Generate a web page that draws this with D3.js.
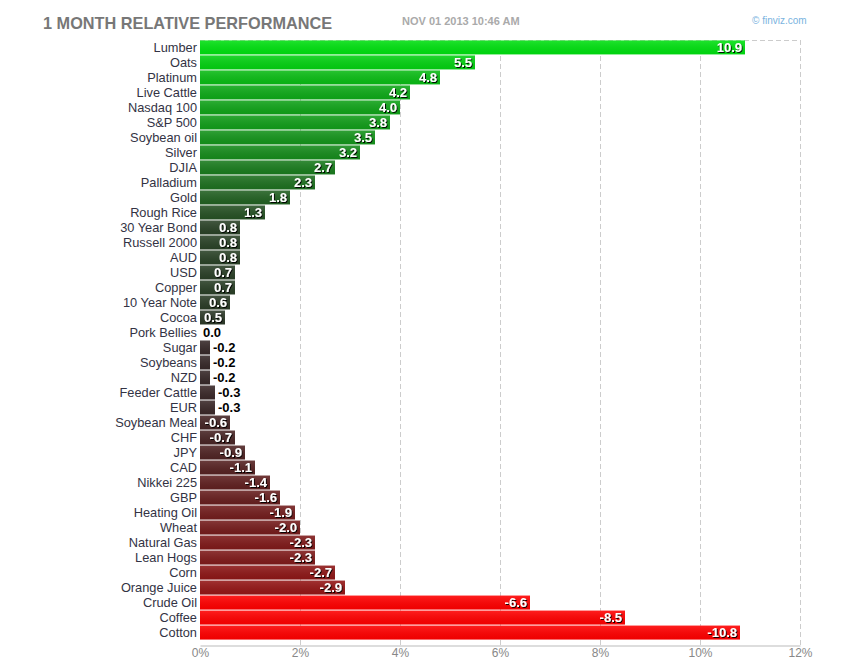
<!DOCTYPE html>
<html>
<head>
<meta charset="utf-8">
<script src="https://cdn.jsdelivr.net/npm/d3@7"></script>
<style>
  body { margin: 0; background: #fff; }
  svg { font-family: Arial, "Liberation Sans", sans-serif; }
</style>
</head>
<body>
<svg id="chart" width="850" height="670"></svg>
<script>
// chart data
const names = ['Lumber', 'Oats', 'Platinum', 'Live Cattle', 'Nasdaq 100', 'S&P 500', 'Soybean oil',
  'Silver', 'DJIA', 'Palladium', 'Gold', 'Rough Rice', '30 Year Bond', 'Russell 2000', 'AUD', 'USD',
  'Copper', '10 Year Note', 'Cocoa', 'Pork Bellies', 'Sugar', 'Soybeans', 'NZD', 'Feeder Cattle', 'EUR',
  'Soybean Meal', 'CHF', 'JPY', 'CAD', 'Nikkei 225', 'GBP', 'Heating Oil', 'Wheat', 'Natural Gas',
  'Lean Hogs', 'Corn', 'Orange Juice', 'Crude Oil', 'Coffee', 'Cotton'];
const perf = [10.9, 5.5, 4.8, 4.2, 4.0, 3.8, 3.5, 3.2, 2.7, 2.3, 1.8, 1.3, 0.8, 0.8, 0.8, 0.7,
  0.7, 0.6, 0.5, 0.0, -0.2, -0.2, -0.2, -0.3, -0.3, -0.6, -0.7, -0.9, -1.1, -1.4, -1.6, -1.9, -2.0,
  -2.3, -2.3, -2.7, -2.9, -6.6, -8.5, -10.8];
const ticks = [0, 2, 4, 6, 8, 10, 12];

const svg = d3.select('#chart');
const plotLeft = 200, plotRight = 800, plotTop = 40, plotBottom = 640;

const x = d3.scaleLinear().domain([0, 12]).range([plotLeft, plotRight]);
const y = d3.scaleBand().domain(names).range([plotTop, plotBottom]).paddingInner(0.07).paddingOuter(0.03);

// colour by value: dark near zero, bright green / red for big moves
const color = d3.scaleLinear()
  .domain([-6, 0, 6])
  .range(['#ff0000', '#302a2a', '#00e010'])
  .clamp(true);

// gradient overlay for a little shine on bars
const defs = svg.append('defs');
const grad = defs.append('linearGradient').attr('id', 'shine')
  .attr('x1', 0).attr('y1', 0).attr('x2', 0).attr('y2', 1);
grad.append('stop').attr('offset', '0%').attr('stop-color', '#fff').attr('stop-opacity', 0.12);
grad.append('stop').attr('offset', '100%').attr('stop-color', '#000').attr('stop-opacity', 0.06);
const shadow = defs.append('filter').attr('id', 'txtshadow');
shadow.append('feDropShadow').attr('dx', 1).attr('dy', 1).attr('stdDeviation', 0)
  .attr('flood-color', '#000').attr('flood-opacity', 0.9);

// title
svg.append('text').attr('x', 43).attr('y', 29)
  .attr('font-size', 16.3).attr('font-weight', 'bold').attr('fill', '#777')
  .text('1 MONTH RELATIVE PERFORMANCE');
svg.append('text').attr('x', 402).attr('y', 25)
  .attr('font-size', 11).attr('font-weight', 'bold').attr('fill', '#aaa')
  .text('NOV 01 2013 10:46 AM');
svg.append('text').attr('x', 752).attr('y', 24)
  .attr('font-size', 10).attr('fill', '#7ab3e0')
  .text('\u00a9 finviz.com');

// grid
const grid = svg.append('g');
grid.append('line')
  .attr('x1', plotLeft).attr('x2', plotRight).attr('y1', plotTop + 0.5).attr('y2', plotTop + 0.5)
  .attr('stroke', '#ccc').attr('stroke-dasharray', '5,3');
ticks.slice(1).forEach(t => {
  grid.append('line')
    .attr('x1', Math.round(x(t)) + 0.5).attr('x2', Math.round(x(t)) + 0.5)
    .attr('y1', plotTop).attr('y2', 645)
    .attr('stroke', '#ccc').attr('stroke-dasharray', '5,3');
});

// axis
const axis = svg.append('g')
  .attr('transform', 'translate(0,645.5)')
  .call(d3.axisBottom(x).tickValues(ticks).tickSize(0).tickPadding(3).tickFormat(d => d + '%'));
axis.select('.domain').attr('stroke', '#bbb');
axis.selectAll('.tick text').attr('fill', '#888').attr('font-size', 12)
  .attr('font-family', 'Arial, "Liberation Sans", sans-serif');

// category labels
svg.append('g').selectAll('text')
  .data(names)
  .join('text')
  .attr('x', 197)
  .attr('y', d => y(d) + y.bandwidth() / 2)
  .attr('dy', '0.36em')
  .attr('text-anchor', 'end')
  .attr('font-size', 12.8)
  .attr('fill', '#333344')
  .text(d => d);

// bars
const rows = names.map((n, i) => ({ name: n, value: perf[i] }));
const bars = svg.append('g');
bars.selectAll('rect.bar')
  .data(rows)
  .join('rect')
  .attr('class', 'bar')
  .attr('x', plotLeft)
  .attr('y', d => y(d.name))
  .attr('width', d => x(Math.abs(d.value)) - plotLeft)
  .attr('height', y.bandwidth())
  .attr('fill', d => color(d.value));
bars.selectAll('rect.shine')
  .data(rows)
  .join('rect')
  .attr('class', 'shine')
  .attr('x', plotLeft)
  .attr('y', d => y(d.name))
  .attr('width', d => x(Math.abs(d.value)) - plotLeft)
  .attr('height', y.bandwidth())
  .attr('fill', 'url(#shine)');

// value labels (plain hyphen for negatives, like the original)
svg.append('g').selectAll('text')
  .data(rows)
  .join('text')
  .each(function (d) {
    const w = x(Math.abs(d.value)) - plotLeft;
    const inside = w >= 20;
    d3.select(this)
      .attr('x', inside ? plotLeft + w - 3 : plotLeft + w + 3)
      .attr('y', y(d.name) + y.bandwidth() / 2)
      .attr('dy', '0.36em')
      .attr('text-anchor', inside ? 'end' : 'start')
      .attr('font-size', 13)
      .attr('font-weight', 'bold')
      .attr('fill', inside ? '#fff' : '#000')
      .attr('filter', inside ? 'url(#txtshadow)' : null)
      .text(d.value.toFixed(1));
  });
</script>
</body>
</html>
